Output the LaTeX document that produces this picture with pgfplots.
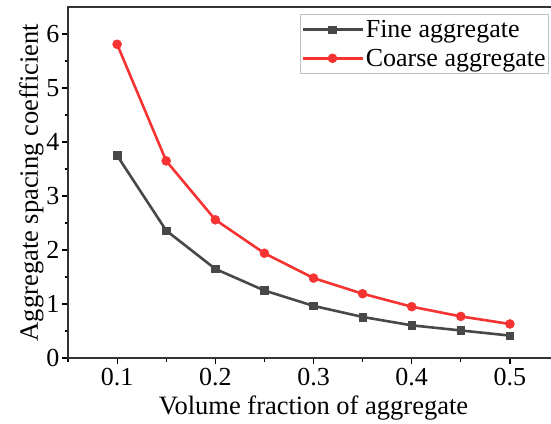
\documentclass[border=0pt]{standalone}
\usepackage{fontspec}
\setmainfont{Liberation Serif}
\usepackage{pgfplots}
\pgfplotsset{compat=1.18}
\definecolor{fineC}{HTML}{484848}
\definecolor{coarseC}{HTML}{F53333}
\pgfplotsset{myleg/.style={legend image code/.code={%
  \draw[line width=2.6pt, mark repeat=2,mark phase=2] plot coordinates {(0pt,0pt)(30pt,0pt)(60pt,0pt)};}}}
\begin{document}
\begin{tikzpicture}
\begin{axis}[
 at={(68pt,65pt)}, anchor=south west,
 scale only axis, width=491pt, height=351pt,
 xmin=0.05, xmax=0.55, ymin=0, ymax=6.5,
 xtick={0.1,0.2,0.3,0.4,0.5},
 xticklabels={0.1,0.2,0.3,0.4,0.5},
 minor xtick={0.05,0.15,0.25,0.35,0.45,0.55},
 ytick={0,1,2,3,4,5,6},
 minor ytick={0.5,1.5,2.5,3.5,4.5,5.5},
 xtick pos=bottom, ytick pos=left,
 tick align=outside,
 major tick length=6pt, minor tick length=3.5pt,
 every tick/.style={line width=1.2pt, black},
 axis line style={line width=1.4pt, black!80},
 /pgf/number format/assume math mode=true,
 tick label style={font=\fontsize{26}{30}\selectfont},
 xticklabel style={yshift=-1pt},
 yticklabel style={xshift=1pt},
 xlabel={Volume fraction of aggregate},
 ylabel={Aggregate spacing coefficient},
 label style={font=\fontsize{26.5}{32}\selectfont},
 xlabel style={yshift=-3pt},
 ylabel style={yshift=-4pt},
 legend style={at={(0.4725,0.98)}, anchor=north west, draw=black!25,
   font=\fontsize{26}{30}\selectfont, inner xsep=1pt, inner ysep=4pt, row sep=6pt},
 legend cell align=left,
]
\addplot[fineC, line width=2.6pt, mark=square*, mark size=3.8pt, mark options={line width=0.5pt}, myleg] coordinates {
(0.10,3.75) (0.15,2.36) (0.20,1.65) (0.25,1.25) (0.30,0.965) (0.35,0.76) (0.40,0.605) (0.45,0.51) (0.50,0.415)};
\addlegendentry{Fine aggregate}
\addplot[coarseC, line width=2.6pt, mark=*, mark size=4.5pt, mark options={line width=0.5pt}, myleg] coordinates {
(0.10,5.81) (0.15,3.65) (0.20,2.56) (0.25,1.94) (0.30,1.48) (0.35,1.19) (0.40,0.95) (0.45,0.77) (0.50,0.63)};
\addlegendentry{Coarse aggregate}
\end{axis}
\pgfresetboundingbox
\useasboundingbox (0,0) rectangle (551pt,423pt);
\end{tikzpicture}
\end{document}
